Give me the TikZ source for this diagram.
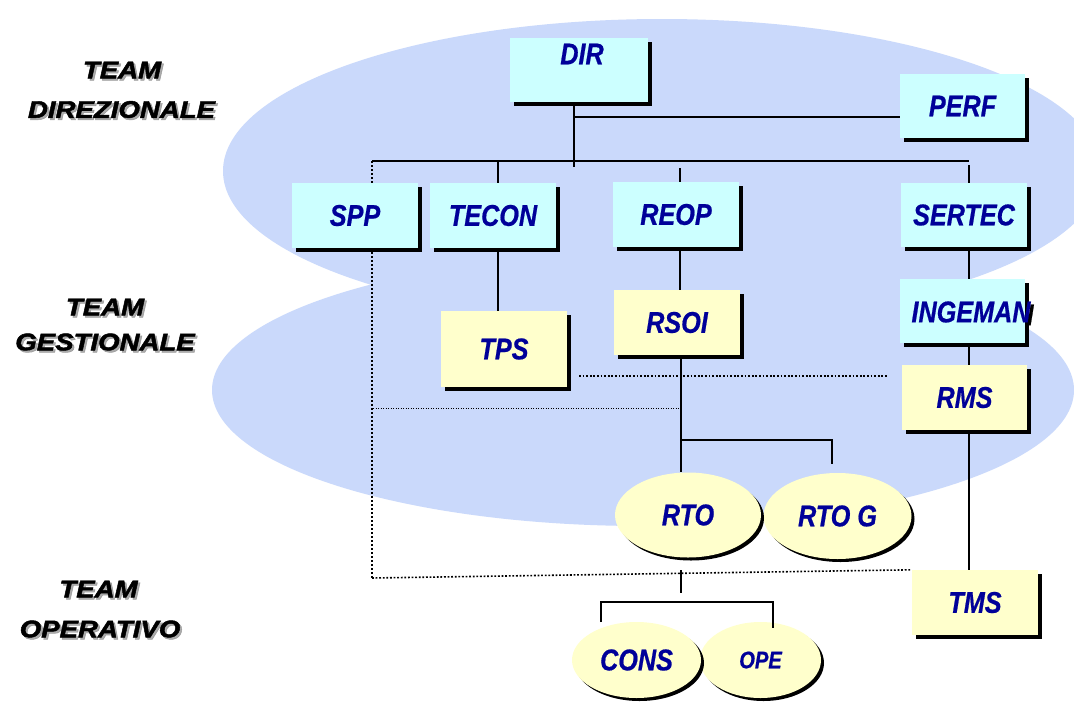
\documentclass[tikz,border=0pt]{standalone}
\usepackage{fontspec}
\usetikzlibrary{shapes.geometric,shadows}
\newfontfamily\unitfont[FakeStretch=0.84,FakeBold=0.6]{Liberation Sans}
\newfontfamily\teamfont[FakeStretch=1.15,FakeBold=2]{Liberation Sans}
\definecolor{teamarea}{RGB}{202,217,251}
\definecolor{boxcyan}{RGB}{204,255,255}
\definecolor{boxyellow}{RGB}{255,255,204}
\definecolor{textblue}{RGB}{0,0,153}
\tikzset{
  unitbox/.style={rectangle, minimum width=126pt, minimum height=65pt, inner sep=0pt,
    drop shadow={shadow xshift=4pt, shadow yshift=-4pt, opacity=1, fill=black},
    text=textblue, font=\unitfont\bfseries\itshape\fontsize{30}{33}\selectfont},
  govbox/.style={unitbox, fill=boxcyan},
  mgmtbox/.style={unitbox, fill=boxyellow},
  unittext/.style={inner sep=0pt, text=textblue, font=\unitfont\bfseries\itshape\fontsize{30}{33}\selectfont},
  unitoval/.style={ellipse, fill=boxyellow, inner sep=0pt,
    drop shadow={shadow xshift=3pt, shadow yshift=-3pt, opacity=1, fill=black},
    text=textblue, font=\unitfont\bfseries\itshape\fontsize{30}{33}\selectfont},
  link/.style={line width=2.6pt, line cap=butt},
  buslink/.style={line width=2.2pt},
  dotlink/.style={line width=2pt, dash pattern=on 2pt off 2pt},
  densedot/.style={line width=1.6pt, dash pattern=on 1.8pt off 1.8pt},
  finedot/.style={line width=1pt, dash pattern=on 1pt off 1.5pt},
  teamlabel/.style={inner sep=0pt, font=\teamfont\bfseries\itshape\fontsize{24}{28}\selectfont},
  teamshade/.style={teamlabel, text=black!50, opacity=0.65},
}
\begin{document}
\begin{tikzpicture}[x=1pt, y=-1pt]
\clip (0,0) rectangle (1074,702);
\fill[white] (0,0) rectangle (1074,702);

% the two team areas
\fill[teamarea] (662,171) ellipse [x radius=439pt, y radius=152pt];
\fill[teamarea] (643,390) ellipse [x radius=431pt, y radius=136pt];

% team captions, each with a soft shadow
\node[teamshade] at (124,72) {TEAM};
\node[teamlabel] (tdir1) at (122,70) {TEAM};
\node[teamshade] at (123.5,111.5) {DIREZIONALE};
\node[teamlabel] (tdir2) at (121.5,109.5) {DIREZIONALE};
\node[teamshade] at (107,309) {TEAM};
\node[teamlabel] (tges1) at (105,307) {TEAM};
\node[teamshade] at (107,344) {GESTIONALE};
\node[teamlabel] (tges2) at (105,342) {GESTIONALE};
\node[teamshade] at (100.5,591) {TEAM};
\node[teamlabel] (tope1) at (98.5,589) {TEAM};
\node[teamshade] at (102,631) {OPERATIVO};
\node[teamlabel] (tope2) at (100,629) {OPERATIVO};

% management team
\node[govbox, minimum width=138pt, minimum height=64pt] (dir) at (579,70) {};
\node[unittext] (dirname) at (582,54) {DIR};
\node[govbox, minimum width=125pt, minimum height=64pt] (perf) at (962.5,106) {PERF};
\node[govbox] (spp) at (355,215.5) {SPP};
\node[govbox] (tecon) at (493,215.5) {TECON};
\node[govbox] (reop) at (676,214.5) {REOP};
\node[govbox, minimum height=64pt] (sertec) at (964,215) {SERTEC};

% middle management
\node[mgmtbox, minimum height=76pt] (tps) at (504,349) {TPS};
\node[mgmtbox] (rsoi) at (677,322.5) {RSOI};
\begin{scope}
  \clip (1029,280) rectangle (1074,350);
  \node[unittext, text=black] (ingemanshade) at (974,315) {INGEMAN};
\end{scope}
\node[govbox, minimum width=125pt, minimum height=64pt] (ingeman) at (962.5,311) {};
\node[unittext] (ingemanname) at (971,312) {INGEMAN};
\node[mgmtbox, minimum width=125pt] (rms) at (964.5,397.5) {RMS};

% operational team
\node[unitoval, minimum width=148pt, minimum height=86pt] (rtog) at (837.5,516) {RTO G};
\node[unitoval, minimum width=146pt, minimum height=85pt] (rto) at (688,515) {RTO};
\node[unitoval, minimum width=121pt, minimum height=76pt,
      font=\unitfont\bfseries\itshape\fontsize{24}{28}\selectfont] (ope) at (760.5,660) {OPE};
\node[unitoval, minimum width=129pt, minimum height=76pt] (cons) at (636.5,660) {CONS};
\node[mgmtbox] (tms) at (975,602.5) {TMS};

% reporting lines
\coordinate (dirdrop) at (574,167);
\coordinate (perfjoin) at (574,117);
\coordinate (busL) at (372,161);
\coordinate (busR) at (969,161);
\coordinate (teconjoin) at (498,161);
\coordinate (reoptop) at (680,168);
\coordinate (sertectop) at (969,165);
\coordinate (rsoiaxis) at (681,440);
\coordinate (rtogstub) at (832,464);
\coordinate (rtostub) at (681,570);
\coordinate (rtostubend) at (681,593);
\coordinate (bracketL) at (601,602);
\coordinate (bracketR) at (773,602);
\coordinate (consstub) at (601,622);
\coordinate (opestub) at (773,628);
\coordinate (sppcorner) at (372,578);
\coordinate (fineL) at (373,408);
\coordinate (denseL) at (579,376);
\coordinate (denseR) at (888,376);

\draw[link] (dir.south -| dirdrop) -- (dirdrop);
\draw[buslink] (perfjoin) -- (perfjoin -| perf.west);
\draw[buslink] (busL) -- (busR);
\draw[link] (teconjoin) -- (teconjoin |- tecon.north);
\draw[link] (reoptop) -- (reoptop |- reop.north);
\draw[link] (sertectop) -- (sertectop |- sertec.north);

\draw[link] (tecon.south -| teconjoin) -- (tps.north -| teconjoin);
\draw[link] (reop.south -| reoptop) -- (rsoi.north -| reoptop);
\draw[link] (rsoi.south -| rsoiaxis) -- (rsoiaxis |- rto.north);
\draw[link] (rsoiaxis) -| (rtogstub);
\draw[link] (rtostub) -- (rtostubend);
\draw[link] (consstub) -- (bracketL) -- (bracketR) -- (opestub);

\draw[link] (sertec.south -| sertectop) -- (ingeman.north -| sertectop);
\draw[link] (ingeman.south -| sertectop) -- (rms.north -| sertectop);
\draw[link] (rms.south -| sertectop) -- (tms.north -| sertectop);

% staff and functional links
\draw[dotlink] (busL) -- (busL |- spp.north);
\draw[dotlink] (sppcorner |- spp.south) -- (sppcorner);
\draw[densedot] (sppcorner) -- (tms.north west);
\draw[finedot] (fineL) -- (fineL -| rsoiaxis);
\draw[densedot] (denseL) -- (denseR);
\end{tikzpicture}
\end{document}
